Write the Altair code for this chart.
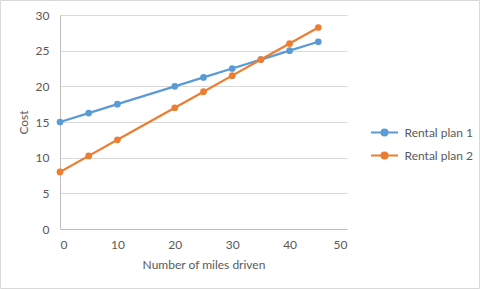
import altair as alt
import pandas as pd

miles = [0, 5, 10, 20, 25, 30, 35, 40, 45]
plan1 = [15, 16.25, 17.5, 20, 21.25, 22.5, 23.75, 25, 26.25]
plan2 = [8, 10.25, 12.5, 17, 19.25, 21.5, 23.75, 26, 28.25]
series_names = ["Rental plan 1", "Rental plan 2"]
colors = ["#5B9BD5", "#ED7D31"]

rows = []
for m, a, b in zip(miles, plan1, plan2):
    rows.append({"miles": m, "cost": a, "plan": series_names[0]})
    rows.append({"miles": m, "cost": b, "plan": series_names[1]})
df = pd.DataFrame(rows)

FONT = "Lato"
GRAY = "#595959"

color = alt.Color(
    "plan:N",
    scale=alt.Scale(domain=series_names, range=colors),
    legend=alt.Legend(
        title=None,
        orient="none",
        legendX=311.5,
        legendY=104.5,
        symbolType="M-1.125,0L1.125,0M0.25,0A0.25,0.25 0 1 1 -0.25,0A0.25,0.25 0 1 1 0.25,0Z",
        symbolSize=576,
        symbolStrokeWidth=2,
        labelFont=FONT,
        labelFontSize=12,
        labelColor=GRAY,
        rowPadding=3,
        labelOffset=7,
    ),
)

x = alt.X(
    "miles:Q",
    scale=alt.Scale(domain=[0, 50], nice=False),
    axis=alt.Axis(
        title="Number  of miles driven",
        values=[0, 10, 20, 30, 40, 50],
        grid=False,
        ticks=False,
        domainColor="#BFBFBF",
        labelPadding=10,
        titlePadding=9,
    ),
)
y = alt.Y(
    "cost:Q",
    scale=alt.Scale(domain=[0, 30], nice=False),
    axis=alt.Axis(
        title="Cost",
        values=[0, 5, 10, 15, 20, 25, 30],
        grid=True,
        gridColor="#D9D9D9",
        ticks=False,
        domainColor="#BFBFBF",
        labelPadding=11,
        titlePadding=5,
    ),
)

lines = alt.Chart(df).mark_line(strokeWidth=2.25).encode(x=x, y=y, color=color)
points = alt.Chart(df).mark_point(filled=True, size=45, opacity=1).encode(x=x, y=y, color=color)

border = alt.Chart(pd.DataFrame({"a": [0]})).mark_rect(
    fill=None, stroke="#D9D9D9", strokeWidth=1
).encode(
    x=alt.value(-59.5), x2=alt.value(419.5), y=alt.value(-14.5), y2=alt.value(273.5)
)

chart = alt.layer(lines, points, border).properties(
    width=287,
    height=214,
    autosize=alt.AutoSizeParams(type="none"),
    padding={"left": 60, "top": 15, "right": 133, "bottom": 60},
    background="white",
).configure_view(stroke=None).configure_axis(
    labelFont=FONT,
    labelFontSize=12,
    labelColor=GRAY,
    titleFont=FONT,
    titleFontSize=12,
    titleColor=GRAY,
    titleFontWeight="normal",
)

chart.save("out.html", embed_options={"renderer": "svg", "actions": False})
